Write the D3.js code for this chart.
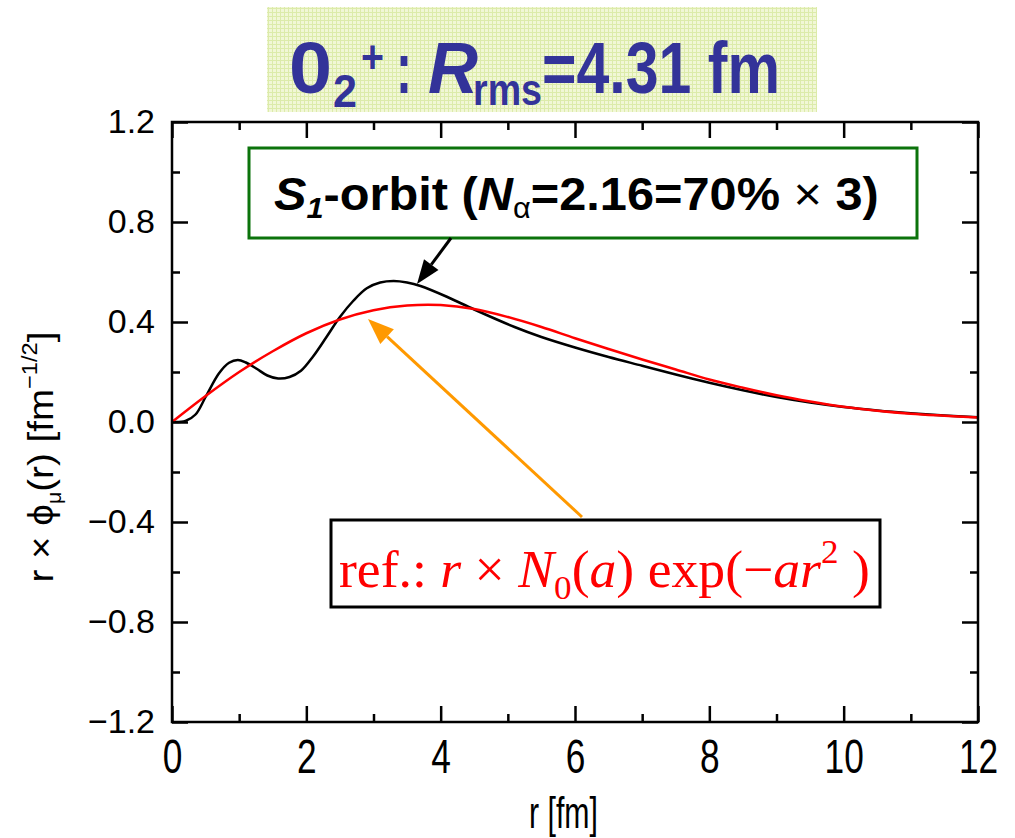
<!DOCTYPE html>
<html>
<head>
<meta charset="utf-8">
<script src="https://cdn.jsdelivr.net/npm/d3@7/dist/d3.min.js"></script>
<style>
  html, body { margin: 0; padding: 0; background: #ffffff; }
  svg { display: block; }
</style>
</head>
<body>
<svg id="chart" width="1015" height="838"></svg>
<script>
// S1-orbit radial amplitude r*phi(r) (black curve)
const rOrbit   = [0, 0.2, 0.35, 0.5, 0.7, 0.85, 0.98, 1.1, 1.26, 1.42, 1.58, 1.75, 1.92, 2.1, 2.3, 2.5, 2.7, 2.9, 3.1, 3.3, 3.5, 3.7, 4.1, 4.5, 5.1, 5.5, 6.0, 6.5, 7.0, 7.5, 8.0, 8.5, 9.0, 9.5, 10.0, 10.5, 11.0, 11.5, 12.0];
const phiOrbit = [0, 0.004, 0.03, 0.1, 0.195, 0.237, 0.248, 0.238, 0.213, 0.186, 0.174, 0.18, 0.205, 0.262, 0.34, 0.42, 0.485, 0.535, 0.558, 0.564, 0.558, 0.544, 0.5, 0.45, 0.38, 0.34, 0.298, 0.26, 0.225, 0.19, 0.157, 0.127, 0.1, 0.078, 0.06, 0.046, 0.035, 0.026, 0.019];

// Gaussian reference r*N0(a)*exp(-a r^2) (red curve)
const rRef   = [0, 0.5, 1.0, 1.5, 2.0, 2.5, 3.0, 3.5, 4.0, 4.5, 5.0, 5.5, 6.0, 6.5, 7.0, 7.5, 8.0, 8.5, 9.0, 9.5, 10.0, 10.5, 11.0, 11.5, 12.0];
const phiRef = [0, 0.104, 0.2, 0.283, 0.355, 0.41, 0.447, 0.466, 0.468, 0.452, 0.42, 0.38, 0.335, 0.292, 0.25, 0.21, 0.17, 0.137, 0.107, 0.082, 0.061, 0.045, 0.033, 0.025, 0.018];

// axis ticks
const xMajor = [0, 2, 4, 6, 8, 10, 12];
const xMinor = [1, 3, 5, 7, 9, 11];
const yMajor = [-1.2, -0.8, -0.4, 0.0, 0.4, 0.8, 1.2];
const yMinor = [-1.0, -0.6, -0.2, 0.2, 0.6, 1.0];

const svg = d3.select("#chart");
const L = 172, R = 978, T = 122, B = 722;
const x = d3.scaleLinear().domain([0, 12]).range([L, R]);
const y = d3.scaleLinear().domain([-1.2, 1.2]).range([B, T]);

const sans = "'Liberation Sans', Arial, Helvetica, sans-serif";
const serif = "'Liberation Serif', 'Times New Roman', serif";

// stretch a text element horizontally so that it spans [x0, x1]
function fitX(textSel, x0, x1) {
  const b = textSel.node().getBBox();
  const k = (x1 - x0) / b.width;
  textSel.attr("transform", `translate(${x0},0) scale(${k},1) translate(${-b.x},0)`);
}

// ---- title banner ----
const defs = svg.append("defs");
const pat = defs.append("pattern").attr("id", "grid").attr("width", 4).attr("height", 4)
  .attr("patternUnits", "userSpaceOnUse");
pat.append("rect").attr("width", 4).attr("height", 4).attr("fill", "#f1f7d6");
pat.append("rect").attr("width", 4).attr("height", 1).attr("fill", "#dcebaa");
pat.append("rect").attr("width", 1).attr("height", 4).attr("fill", "#dcebaa");
svg.append("rect").attr("x", 267).attr("y", 7).attr("width", 550).attr("height", 105)
  .attr("fill", "url(#grid)");

const titleColor = "#333399";
const titleParts = [
  { t: "0",        x0: 289, x1: 332, base: 93,  size: 72, style: "normal" },
  { t: "2",        x0: 333, x1: 357, base: 107, size: 46, style: "normal" },
  { t: "+",        x0: 361, x1: 384, base: 73,  size: 46, style: "normal" },
  { t: ":",        x0: 396, x1: 412, base: 93,  size: 72, style: "normal" },
  { t: "R",        x0: 428, x1: 478, base: 93,  size: 72, style: "italic" },
  { t: "rms",      x0: 473, x1: 542, base: 105, size: 44, style: "normal" },
  { t: "=4.31 fm", x0: 542, x1: 780, base: 93,  size: 72, style: "normal" }
];
titleParts.forEach(p => {
  const t = svg.append("text").attr("x", 0).attr("y", p.base)
    .attr("font-family", sans).attr("font-weight", "bold").attr("font-style", p.style)
    .attr("font-size", p.size).attr("fill", titleColor).text(p.t);
  fitX(t, p.x0, p.x1);
});

// ---- curves ----
const line = d3.line().x(d => x(d[0])).y(d => y(d[1])).curve(d3.curveCatmullRom.alpha(0.5));
const plot = svg.append("g");
plot.append("path").datum(rOrbit.map((r, i) => [r, phiOrbit[i]]))
  .attr("d", line).attr("fill", "none").attr("stroke", "#000000").attr("stroke-width", 2.5);
plot.append("path").datum(rRef.map((r, i) => [r, phiRef[i]]))
  .attr("d", line).attr("fill", "none").attr("stroke", "#ff0000").attr("stroke-width", 2.5);

// ---- frame and inward ticks ----
const fmtY = d3.format(".1f");
function styleAxis(g) {
  g.select(".domain").remove();
  g.selectAll(".tick line").attr("stroke", "#000").attr("stroke-width", 2.5);
}
// bottom
svg.append("g").attr("transform", `translate(0,${B})`)
  .call(d3.axisBottom(x).tickValues(xMinor).tickSize(-8).tickFormat(""))
  .call(styleAxis);
const xb = svg.append("g").attr("transform", `translate(0,${B})`)
  .call(d3.axisBottom(x).tickValues(xMajor).tickSize(-16).tickPadding(51).tickFormat(d3.format("d")))
  .call(styleAxis);
xb.selectAll(".tick text").attr("font-family", sans).attr("font-size", 49).attr("fill", "#000")
  .attr("dy", 0).attr("transform", "scale(0.72,1)");
// top
svg.append("g").attr("transform", `translate(0,${T})`)
  .call(d3.axisTop(x).tickValues(xMinor).tickSize(-8).tickFormat("")).call(styleAxis);
svg.append("g").attr("transform", `translate(0,${T})`)
  .call(d3.axisTop(x).tickValues(xMajor).tickSize(-16).tickFormat("")).call(styleAxis);
// left
svg.append("g").attr("transform", `translate(${L},0)`)
  .call(d3.axisLeft(y).tickValues(yMinor).tickSize(-8).tickFormat("")).call(styleAxis);
const yl = svg.append("g").attr("transform", `translate(${L},0)`)
  .call(d3.axisLeft(y).tickValues(yMajor).tickSize(-16).tickPadding(17).tickFormat(fmtY))
  .call(styleAxis);
yl.selectAll(".tick text").attr("font-family", sans).attr("font-size", 34).attr("fill", "#000");
// right
svg.append("g").attr("transform", `translate(${R},0)`)
  .call(d3.axisRight(y).tickValues(yMinor).tickSize(-8).tickFormat("")).call(styleAxis);
svg.append("g").attr("transform", `translate(${R},0)`)
  .call(d3.axisRight(y).tickValues(yMajor).tickSize(-16).tickFormat("")).call(styleAxis);

svg.append("rect").attr("x", L).attr("y", T).attr("width", R - L).attr("height", B - T)
  .attr("fill", "none").attr("stroke", "#000").attr("stroke-width", 2.5);

// ---- axis titles ----
const xt = svg.append("text").attr("x", 0).attr("y", 828)
  .attr("font-family", sans).attr("font-size", 44).attr("fill", "#000").text("r [fm]");
fitX(xt, 529, 598);

const ylg = svg.append("g").attr("transform", "translate(53,457) rotate(-90)");
const ytxt = ylg.append("text").attr("x", 0).attr("y", 0)
  .attr("font-family", sans).attr("font-size", 36).attr("fill", "#000");
ytxt.append("tspan").text("r × ϕ");
ytxt.append("tspan").attr("font-size", 20).attr("dy", 8).text("μ");
ytxt.append("tspan").attr("dy", -8).text("(r) [fm");
ytxt.append("tspan").attr("font-size", 22).attr("dy", -16).text("−1/2");
ytxt.append("tspan").attr("dy", 16).text("]");
{
  const b = ytxt.node().getBBox();
  const k = 251 / b.width;
  ytxt.attr("transform", `scale(${k},1) translate(${-(b.x + b.width / 2)},0)`);
}

// ---- annotation: S1-orbit ----
svg.append("rect").attr("x", 249).attr("y", 148).attr("width", 668).attr("height", 90)
  .attr("fill", "#ffffff").attr("stroke", "#0b730b").attr("stroke-width", 3);
const st = svg.append("text").attr("x", 0).attr("y", 210)
  .attr("font-family", sans).attr("font-weight", "bold").attr("font-size", 46).attr("fill", "#000");
st.append("tspan").attr("font-style", "italic").text("S");
st.append("tspan").attr("font-style", "italic").attr("font-size", 29).attr("dy", 8).text("1");
st.append("tspan").attr("dy", -8).text("-orbit (");
st.append("tspan").attr("font-style", "italic").text("N");
st.append("tspan").attr("font-weight", "normal").attr("font-size", 29).attr("dy", 8).text("α");
st.append("tspan").attr("dy", -8).text("=2.16=70%");
st.append("tspan").attr("font-weight", "normal").text(" × ");
st.append("tspan").text("3)");
fitX(st, 274, 879);

// ---- annotation: Gaussian reference ----
svg.append("rect").attr("x", 331).attr("y", 520).attr("width", 549).attr("height", 87)
  .attr("fill", "#ffffff").attr("stroke", "#000").attr("stroke-width", 3);
const rt = svg.append("text").attr("x", 0).attr("y", 587)
  .attr("font-family", serif).attr("font-size", 52).attr("fill", "#ff0000");
rt.append("tspan").text("ref.: ");
rt.append("tspan").attr("font-style", "italic").text("r");
rt.append("tspan").text(" × ");
rt.append("tspan").attr("font-style", "italic").text("N");
rt.append("tspan").attr("font-size", 34).attr("dy", 12).text("0");
rt.append("tspan").attr("dy", -12).text("(");
rt.append("tspan").attr("font-style", "italic").text("a");
rt.append("tspan").text(") exp(−");
rt.append("tspan").attr("font-style", "italic").text("ar");
rt.append("tspan").attr("font-size", 34).attr("dy", -24).text("2");
rt.append("tspan").attr("dy", 24).text(" )");
fitX(rt, 339, 870);

// ---- arrows ----
function arrow(x1, y1, x2, y2, color, width, headLen, headW) {
  const ang = Math.atan2(y2 - y1, x2 - x1);
  const bx = x2 - headLen * Math.cos(ang), by = y2 - headLen * Math.sin(ang);
  svg.append("line").attr("x1", x1).attr("y1", y1).attr("x2", bx).attr("y2", by)
    .attr("stroke", color).attr("stroke-width", width);
  const px = -Math.sin(ang) * headW / 2, py = Math.cos(ang) * headW / 2;
  svg.append("path")
    .attr("d", `M${x2},${y2}L${bx + px},${by + py}L${bx - px},${by - py}Z`)
    .attr("fill", color);
}
arrow(451, 238, 417, 284, "#000000", 3, 24, 18);
arrow(582, 517, 368, 319, "#ff9900", 3, 26, 20);
</script>
</body>
</html>
